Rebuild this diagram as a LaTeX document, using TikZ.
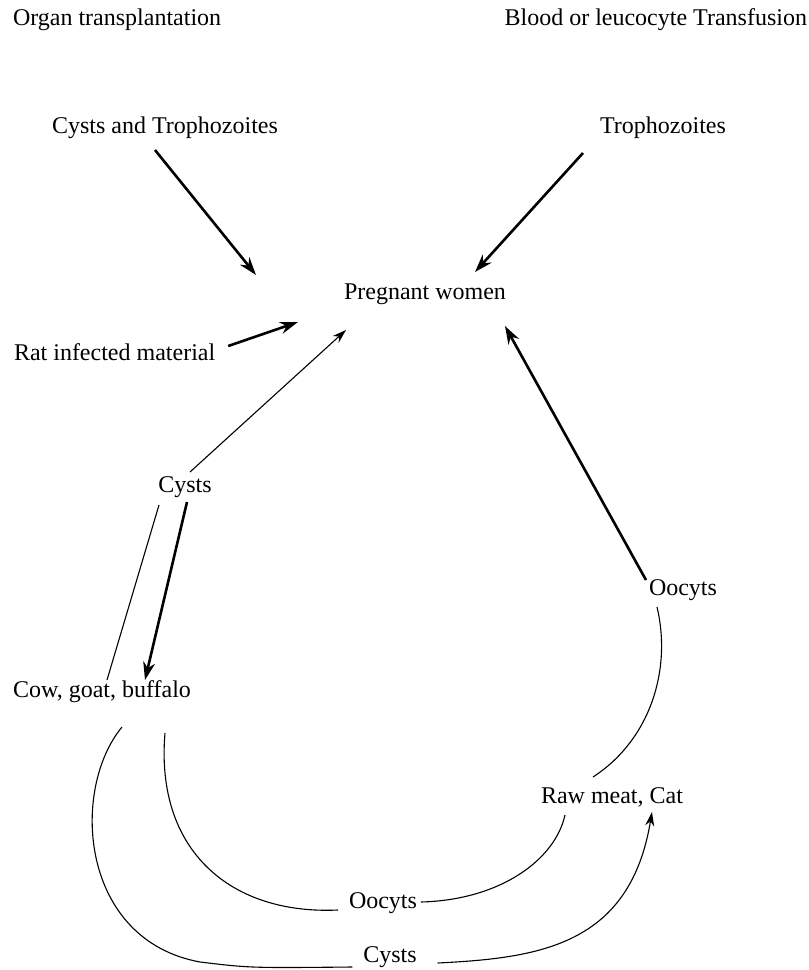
\documentclass[tikz,border=0pt]{standalone}
\usepackage{fontspec}
\setmainfont{Liberation Serif}
\usetikzlibrary{arrows.meta}

\begin{document}
\begin{tikzpicture}[
    x=1pt,
    y=-1pt,
    font=\fontsize{24}{28}\selectfont,
    text centered,
    every node/.style={
      inner sep=0,
      outer sep=0
    }
  ]

  \tikzstyle{heavy} = [draw, -{Stealth[length=18pt,width=12pt]}, line width=2.6pt]
  \tikzstyle{light} = [draw, -{Stealth[length=14pt,width=9pt]}, line width=1.1pt]
  \tikzstyle{curve} = [draw, line width=1.1pt]

  \useasboundingbox (0,0) rectangle (809,970);

  \node [anchor=west] (organ) at (13,20) {Organ transplantation};
  \node [anchor=east] (blood) at (807,20) {Blood or leucocyte Transfusion};
  \node (cystroph) at (165,128) {Cysts and Trophozoites};
  \node (troph) at (663,128) {Trophozoites};
  \node (pregnant) at (425,294) {Pregnant women};
  \node [anchor=west] (rat) at (14,352) {Rat infected material};
  \node (cysts) at (185,487) {Cysts};
  \node (oocytsr) at (683,590) {Oocyts};
  \node [anchor=west] (cow) at (13,692) {Cow, goat, buffalo};
  \node (rawmeat) at (612,797) {Raw meat, Cat};
  \node (oocytsb) at (383,903) {Oocyts};
  \node (cystsb) at (390,957) {Cysts};

  \path [heavy] ([shift={(-10,22)}]cystroph.center) -- ([shift={(-169,-19)}]pregnant.center);
  \path [heavy] ([shift={(-80,25)}]troph.center) -- ([shift={(50,-22)}]pregnant.center);
  \path [heavy] ([shift={(13,-6)}]rat.east) -- ([shift={(-127,28)}]pregnant.center);
  \path [light] ([shift={(5,-15)}]cysts.center) -- ([shift={(-79,36)}]pregnant.center);
  \path [heavy] ([shift={(-37,-10)}]oocytsr.center) -- ([shift={(80,32)}]pregnant.center);

  \path [heavy] ([shift={(2,15)}]cysts.center) -- ([shift={(132,-12)}]cow.west);
  \path [curve] ([shift={(94,-12)}]cow.west) -- ([shift={(-26,18)}]cysts.center);

  \path [curve] ([shift={(-26,17)}]oocytsr.center) .. controls (672,670) and (650,740) .. ([shift={(-19,-20)}]rawmeat.center);

  \path [curve] ([shift={(152,41)}]cow.west) .. controls (155,850) and (230,915) .. ([shift={(-11,7)}]oocytsb.west);
  \path [curve] ([shift={(4,-1)}]oocytsb.east) .. controls (500,900) and (555,860) .. ([shift={(-47,18)}]rawmeat.center);

  \path [curve] ([shift={(109,35)}]cow.west) .. controls (70,790) and (80,940) .. (200,962) .. controls (250,968) .. ([shift={(-11,10)}]cystsb.west);
  \path [light] ([shift={(21,6)}]cystsb.east) .. controls (540,958) and (630,945) .. ([shift={(40,15)}]rawmeat.center);

\end{tikzpicture}
\end{document}
